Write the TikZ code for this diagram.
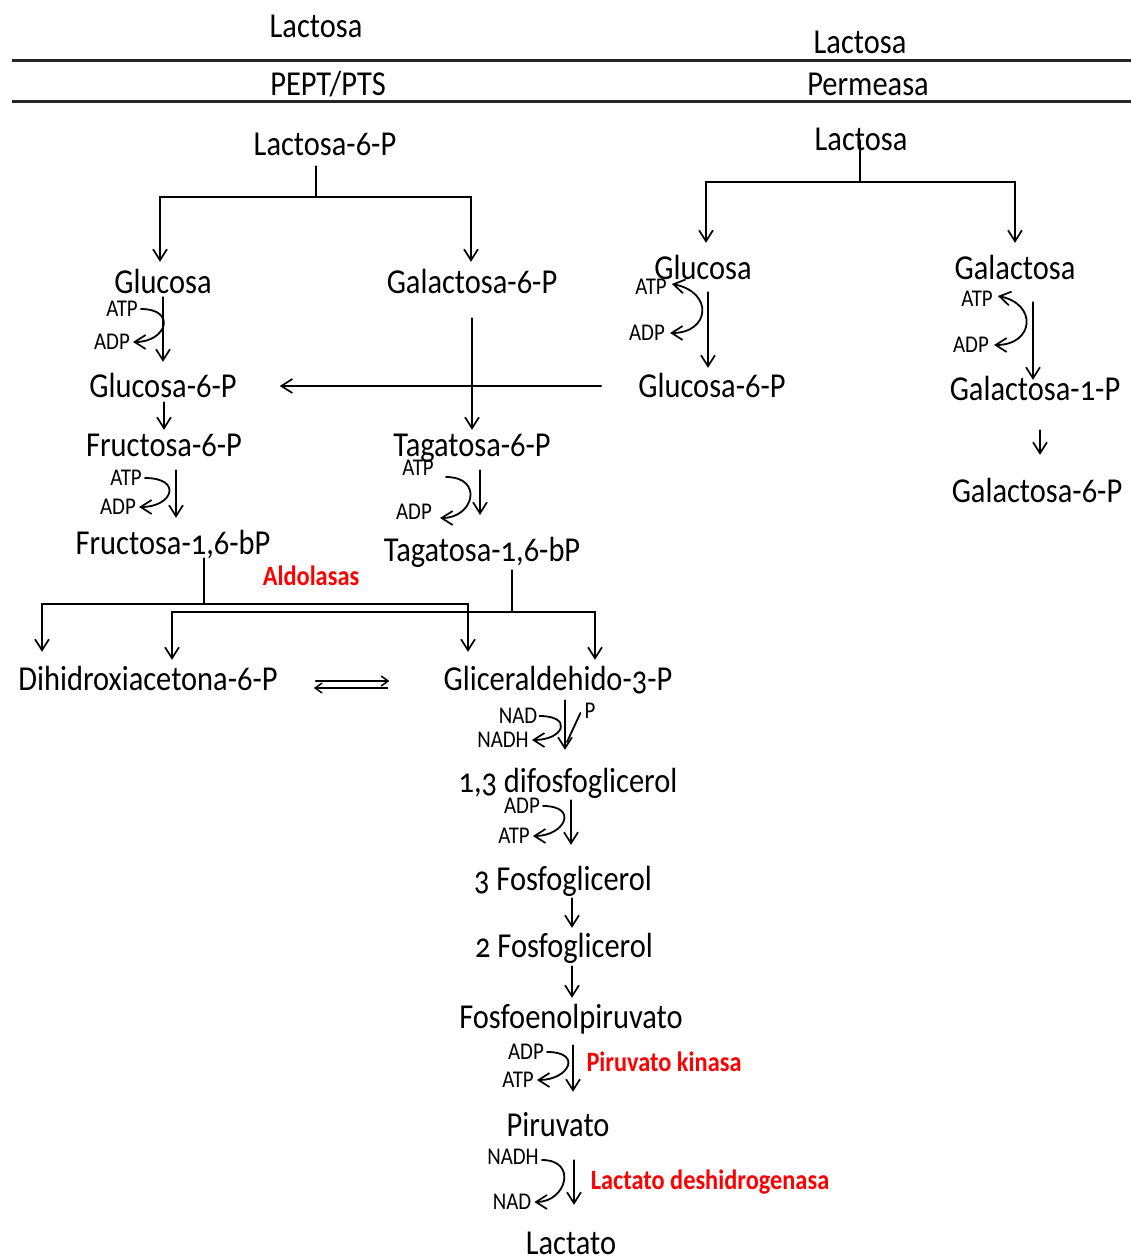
\documentclass[tikz,border=0pt]{standalone}
\usepackage{fontspec}
\setmainfont{Carlito}[Numbers=OldStyle, FakeStretch=0.87]
\usetikzlibrary{arrows.meta}

\tikzset{
  met/.style={font=\fontsize{35}{40}\selectfont, inner sep=0pt, text height=22pt, text depth=0pt},
  cof/.style={font=\fontsize{24}{28}\selectfont, inner sep=0pt, text height=15pt, text depth=0pt},
  enz/.style={font=\bfseries\fontsize{28}{32}\selectfont, text=red, inner sep=0pt, text height=18pt, text depth=0pt},
  link/.style={line width=1.8pt, line cap=round},
  arr/.style={link, -{Straight Barb[length=11pt, width=14pt, line width=1.7pt]}},
  barr/.style={link, {Straight Barb[length=11pt, width=14pt, line width=1.7pt]}-{Straight Barb[length=11pt, width=14pt, line width=1.7pt]}},
  memb/.style={line width=3pt, black!85}
}

\begin{document}
\begin{tikzpicture}[x=1pt, y=-1pt]
\useasboundingbox (0,0) rectangle (1131,1260);

% membrane
\draw[memb] (12,61) -- (1131,61);
\draw[memb] (12,102) -- (1131,102);

% labels around the membrane
\node[met] (lacA) at (316,27) {Lactosa};
\node[met] (lacB) at (860,43) {Lactosa};
\node[met] (pts)  at (328,85) {PEPT/PTS};
\node[met] (perm) at (868,85) {Permeasa};
\node[met] (lac6p) at (325,145) {Lactosa-6-P};
\node[met] (lacC) at (861,140) {Lactosa};

% ---- PTS branch ----
\node[met] (glcL)  at (163,282) {Glucosa};
\node[met] (gal6L) at (472,282) {Galactosa-6-P};
\node[met] (g6pL)  at (163,386) {Glucosa-6-P};
\node[met] (f6p)   at (164,445) {Fructosa-6-P};
\node[met] (f16)   at (173,543) {Fructosa-1,6-bP};
\node[met] (tag6)  at (472,445) {Tagatosa-6-P};
\node[met] (tag16) at (482,550) {Tagatosa-1,6-bP};

\node[cof] (atp1) at (122,309) {ATP};
\node[cof] (adp1) at (112,342) {ADP};
\node[cof] (atp2) at (126,478) {ATP};
\node[cof] (adp2) at (118,507) {ADP};
\node[cof] (atp3) at (418,468) {ATP};
\node[cof] (adp3) at (414,512) {ADP};

\coordinate (jL) at (316,197);
\draw[link] ([yshift=-10pt]lac6p.south -| jL) -- (jL);
\draw[arr] (jL) -| ([xshift=-3pt,yshift=9pt]glcL.north);
\draw[arr] (jL) -| ([xshift=-1pt,yshift=9pt]gal6L.north);

\draw[arr] ([yshift=-4pt]glcL.south) -- ([yshift=13pt]g6pL.north);
\draw[arr] ([xshift=3pt]atp1.east) .. controls +(36,0) and +(34,0) .. ([xshift=3pt]adp1.east);
\draw[arr] ([xshift=1pt,yshift=-5pt]g6pL.south) -- ([xshift=0pt,yshift=4pt]f6p.north);
\draw[arr] ([xshift=12pt,yshift=-14pt]f6p.south) -- ([xshift=3pt,yshift=14pt]f16.north);
\draw[arr] ([xshift=3pt]atp2.east) .. controls +(38,0) and +(34,0) .. ([xshift=3pt]adp2.east);

\draw[arr] ([yshift=-25pt]gal6L.south) -- ([yshift=4pt]tag6.north);
\draw[arr] ([xshift=8pt,yshift=-14pt]tag6.south) -- ([xshift=-2pt,yshift=24pt]tag16.north);
\draw[arr] ([xshift=12pt,yshift=-9pt]atp3.east) .. controls +(38,0) and +(34,0) .. ([xshift=8pt,yshift=-6pt]adp3.east);

% ---- permease branch ----
\node[met] (glcR)  at (703,268) {Glucosa};
\node[met] (g6pR)  at (712,386) {Glucosa-6-P};
\node[met] (galR)  at (1015,268) {Galactosa};
\node[met] (gal1p) at (1035,389) {Galactosa-1-P};
\node[met] (gal6R) at (1037,491) {Galactosa-6-P};

\node[cof] (atp4) at (651,287) {ATP};
\node[cof] (adp4) at (647,333) {ADP};
\node[cof] (atp5) at (977,299) {ATP};
\node[cof] (adp5) at (971,345) {ADP};

\coordinate (jR) at (860,182);
\draw[link] (lacC.center -| jR) -- (jR);
\draw[arr] (jR) -| ([xshift=3pt,yshift=14pt]glcR.north);
\draw[arr] (jR) -| ([yshift=14pt]galR.north);

\draw[arr] ([xshift=5pt,yshift=-13pt]glcR.south) -- ([xshift=-4pt,yshift=7pt]g6pR.north);
\draw[barr] ([xshift=5pt,yshift=3pt]atp4.east) .. controls +(42,8) and +(40,0) .. ([xshift=5pt]adp4.east);
\draw[arr] ([xshift=18pt,yshift=-23pt]galR.south) -- ([xshift=-2pt,yshift=-2pt]gal1p.north);
\draw[barr] ([xshift=5pt,yshift=3pt]atp5.east) .. controls +(40,8) and +(40,0) .. ([xshift=5pt]adp5.east);
\draw[arr] ([xshift=5pt,yshift=-30pt]gal1p.south) -- ([xshift=3pt,yshift=25pt]gal6R.north);

% glucose-6-P joins the PTS branch
\draw[arr] ([xshift=-37pt]g6pR.west) -- ([xshift=43pt]g6pL.east);

% ---- aldolase split ----
\node[enz] (ald) at (311,576) {Aldolasas};
\node[met] (dhap) at (148,679) {Dihidroxiacetona-6-P};
\node[met] (gap)  at (558,679) {Gliceraldehido-3-P};

\coordinate (jA) at (204,604);
\coordinate (jB) at (512,612);
\draw[link] ([xshift=31pt,yshift=-4pt]f16.south) -- (jA);
\draw[arr] (jA) -| ([xshift=-106pt,yshift=16pt]dhap.north);
\draw[arr] (jA) -| ([xshift=-90pt,yshift=16pt]gap.north);
\draw[link] ([xshift=30pt,yshift=-9pt]tag16.south) -- (jB);
\draw[arr] (jB) -| ([xshift=24pt,yshift=8pt]dhap.north);
\draw[arr] (jB) -| ([xshift=37pt,yshift=8pt]gap.north);

% triose-phosphate isomerase equilibrium
\draw[link, -{Straight Barb[length=7pt, width=10pt, line width=1.5pt]}]
  ([xshift=38pt,yshift=-2pt]dhap.east) -- ([xshift=-54pt,yshift=-2pt]gap.west);
\draw[link, -{Straight Barb[length=7pt, width=10pt, line width=1.5pt]}]
  ([xshift=-56pt,yshift=-9pt]gap.west) -- ([xshift=36pt,yshift=-9pt]dhap.east);

% ---- lower glycolysis ----
\node[met] (dfg)  at (568,781) {1,3 difosfoglicerol};
\node[met] (fg3)  at (563,879) {3 Fosfoglicerol};
\node[met] (fg2)  at (564,946) {2 Fosfoglicerol};
\node[met] (pep)  at (571,1017) {Fosfoenolpiruvato};
\node[met] (pyr)  at (558,1125) {Piruvato};
\node[met] (lact) at (571,1243) {Lactato};

\node[cof] (nad1)  at (518,716) {NAD};
\node[cof] (nadh1) at (503,740) {NADH};
\node[cof] (pi)    at (590,711) {P};
\node[cof] (adp6)  at (522,806) {ADP};
\node[cof] (atp6)  at (514,836) {ATP};
\node[cof] (adp7)  at (526,1052) {ADP};
\node[cof] (atp7)  at (518,1080) {ATP};
\node[cof] (nadh2) at (513,1157) {NADH};
\node[cof] (nad2)  at (512,1202) {NAD};

\node[enz] (pk)  at (664,1062) {Piruvato kinasa};
\node[enz] (ldh) at (710,1180) {Lactato deshidrogenasa};

\draw[arr] ([xshift=7pt,yshift=-10pt]gap.south) -- ([xshift=-3pt,yshift=20pt]dfg.north);
\draw[arr] ([xshift=2pt]nad1.east) .. controls +(34,0) and +(32,0) .. ([xshift=3pt]nadh1.east);
\draw[link] ([xshift=-4pt,yshift=-2pt]pi.west) -- (567,742);
\draw[arr] ([xshift=3pt,yshift=-8pt]dfg.south) -- ([xshift=8pt,yshift=23pt]fg3.north);
\draw[arr] ([xshift=3pt]adp6.east) .. controls +(36,0) and +(32,0) .. ([xshift=3pt]atp6.east);
\draw[arr] ([xshift=9pt,yshift=-8pt]fg3.south) -- ([xshift=8pt,yshift=7pt]fg2.north);
\draw[arr] ([xshift=8pt,yshift=-9pt]fg2.south) -- ([xshift=1pt,yshift=8pt]pep.north);
\draw[arr] ([xshift=2pt,yshift=-17pt]pep.south) -- ([xshift=15pt,yshift=22pt]pyr.north);
\draw[arr] ([xshift=3pt]adp7.east) .. controls +(36,0) and +(32,0) .. ([xshift=3pt]atp7.east);
\draw[arr] ([xshift=16pt,yshift=-24pt]pyr.south) -- ([xshift=3pt,yshift=27pt]lact.north);
\draw[arr] ([xshift=3pt,yshift=-3pt]nadh2.east) .. controls +(36,0) and +(32,0) .. ([xshift=3pt]nad2.east);
\end{tikzpicture}
\end{document}
